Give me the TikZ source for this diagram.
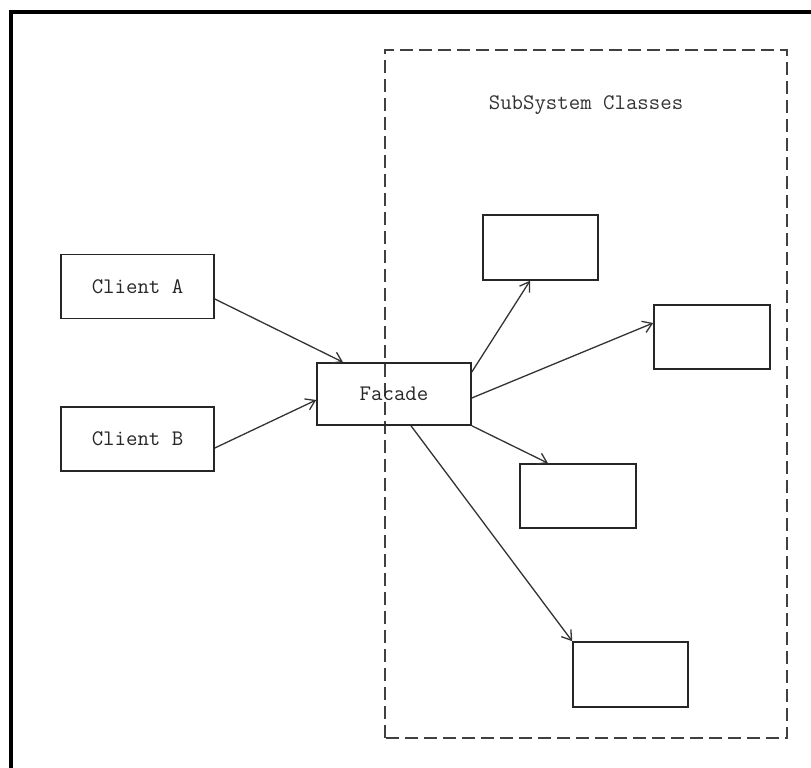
\documentclass[tikz,border=0pt]{standalone}
\usepackage{xcolor}
\usepackage{tikz}
\usetikzlibrary{arrows.meta, positioning, calc}

\begin{document}
\begin{tikzpicture}[x=1pt, y=1pt, >={Straight Barb[length=9pt, width=12pt]},
    classbox/.style={draw=black!85, line width=1.6pt, minimum width=153pt, minimum height=64pt, inner sep=0pt,
      font=\fontsize{22.2}{26}\selectfont\ttfamily, text=black!85},
    partbox/.style={classbox, minimum width=115pt},
    link/.style={->, line width=1.3pt, draw=black!80}]
  \useasboundingbox (0,0) rectangle (811,768);
  % frame and subsystem boundary
  \draw[line width=4pt] (11,0) -- (11,756) -- (811,756);
  \draw[line width=1.8pt, black!75, dash pattern=on 13pt off 6pt] (385,30) rectangle (787,718);
  \node[font=\fontsize{22.2}{26}\selectfont\ttfamily, text=black!80] (subtitle) at (586,663) {SubSystem Classes};
  % clients and facade
  \node[classbox] (clienta) at (137.5,481.5) {Client A};
  \node[classbox] (clientb) at (137.5,329) {Client B};
  \node[classbox, minimum width=154pt, minimum height=62pt] (facade) at (394,374) {Facade};
  % subsystem classes
  \node[partbox, minimum height=65pt] (parta) at (540.5,520.5) {};
  \node[partbox, minimum width=116pt] (partb) at (712,431) {};
  \node[partbox, minimum width=116pt] (partc) at (578,272) {};
  \node[partbox, minimum height=65pt] (partd) at (630.5,93.5) {};
  % connectors
  \draw[link] ([yshift=-12.5pt]clienta.east) -- ([xshift=-51pt]facade.north);
  \draw[link] ([yshift=-9pt]clientb.east) -- ([yshift=-6pt]facade.west);
  \draw[link] ([yshift=22pt]facade.east) -- ([xshift=-10.5pt]parta.south);
  \draw[link] ([yshift=-4pt]facade.east) -- ([yshift=14pt]partb.west);
  \draw[link] (facade.south east) -- ([xshift=-30pt]partc.north);
  \draw[link] ([xshift=17pt]facade.south) -- (partd.north west);
\end{tikzpicture}
\end{document}
